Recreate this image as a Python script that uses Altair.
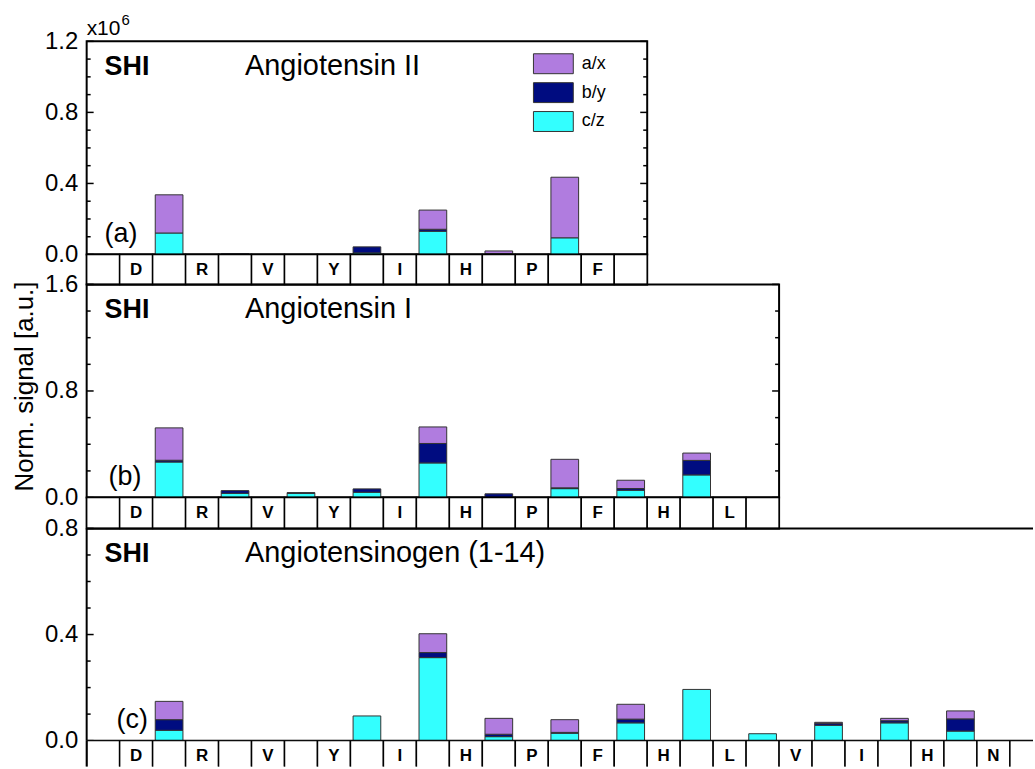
import altair as alt
import pandas as pd

FONT = "Liberation Sans"
CELL = 33.1        # pixel width of one residue / cleavage cell
PLOT_H = 214
STRIP_H = 30

ion_types = ["a/x", "b/y", "c/z"]
ion_colors = ["#B07CDF", "#000C80", "#33FFFF"]

# residue sequences of the three peptides
residues_a = ["D", "R", "V", "Y", "I", "H", "P", "F"]
residues_b = ["D", "R", "V", "Y", "I", "H", "P", "F", "H", "L"]
residues_c = ["D", "R", "V", "Y", "I", "H", "P", "F", "H", "L", "V", "I", "H", "N"]

# (a) Angiotensin II: cleavage cells and stacked signals (x10^6)
cells_a = [2, 4, 8, 10, 12, 14]
cz_a = [0.121, 0.0, 0.009, 0.131, 0.0, 0.094]
by_a = [0.0, 0.004, 0.034, 0.011, 0.005, 0.0]
ax_a = [0.215, 0.0, 0.0, 0.108, 0.015, 0.341]

# (b) Angiotensin I
cells_b = [2, 4, 6, 8, 10, 12, 14, 16, 18]
cz_b = [0.267, 0.032, 0.032, 0.040, 0.260, 0.0, 0.067, 0.055, 0.170]
by_b = [0.013, 0.020, 0.005, 0.025, 0.146, 0.028, 0.006, 0.013, 0.109]
ax_b = [0.243, 0.0, 0.0, 0.0, 0.124, 0.0, 0.214, 0.062, 0.055]

# (c) Angiotensinogen (1-14)
cells_c = [2, 8, 10, 12, 14, 16, 18, 20, 22, 24, 26]
cz_c = [0.039, 0.093, 0.313, 0.015, 0.028, 0.067, 0.193, 0.026, 0.058, 0.067, 0.036]
by_c = [0.040, 0.0, 0.019, 0.009, 0.003, 0.014, 0.0, 0.0, 0.007, 0.008, 0.046]
ax_c = [0.069, 0.0, 0.071, 0.060, 0.048, 0.056, 0.0, 0.0, 0.004, 0.009, 0.030]

names = ["Angiotensin II", "Angiotensin I", "Angiotensinogen (1-14)"]
tags = ["(a)", "(b)", "(c)"]


def segments(cells, cz, by, ax):
    rows = []
    for cell, c, b, a in zip(cells, cz, by, ax):
        base = 0.0
        for ion, v in (("c/z", c), ("b/y", b), ("a/x", a)):
            if v > 0:
                rows.append(dict(x0=cell + 0.08, x1=cell + 0.92, y0=base, y1=base + v, ion=ion))
                base += v
    return pd.DataFrame(rows)


def text_layer(text, x, y, size, weight="normal", align="left", baseline="alphabetic"):
    return alt.Chart(pd.DataFrame({"t": [text]})).mark_text(
        align=align, baseline=baseline, fontSize=size, fontWeight=weight,
        font=FONT, color="black"
    ).encode(x=alt.value(x), y=alt.value(y), text="t:N")


def panel(idx, cells, cz, by, ax, ymax, major, minor, width, height, open_right=False):
    xs = alt.Scale(domain=[0, width / CELL], nice=False, zero=False)
    ys = alt.Scale(domain=[0, ymax], nice=False, zero=False)
    axis_kw = dict(values=major, format=".1f", ticks=False, domain=False, grid=False,
                   labelFontSize=24, labelFont=FONT, labelColor="black", labelPadding=9)
    if idx == 1:
        axis_kw.update(title="Norm. signal [a.u.]", titleFontSize=26, titleFont=FONT,
                       titleFontWeight="normal", titleColor="black", titleAngle=270,
                       titleX=-62, titleY=102, titleAlign="center", titleBaseline="middle")
    else:
        axis_kw.update(title=None)
    yaxis = alt.Axis(**axis_kw)
    if idx == 0:
        legend = alt.Legend(orient="none", legendX=458, legendY=12, title=None,
                            symbolType="M-2,-1H2V1H-2Z", symbolSize=400,
                            symbolStrokeColor="#333333", symbolStrokeWidth=1,
                            symbolOpacity=1, labelFontSize=18, labelFont=FONT,
                            labelColor="black", labelOffset=18, rowPadding=4, padding=0)
    else:
        legend = None
    bars = alt.Chart(segments(cells, cz, by, ax)).mark_rect(
        stroke="#333333", strokeWidth=1
    ).encode(
        x=alt.X("x0:Q", scale=xs, axis=None),
        x2="x1:Q",
        y=alt.Y("y0:Q", scale=ys, axis=yaxis),
        y2="y1:Q",
        color=alt.Color("ion:N", scale=alt.Scale(domain=ion_types, range=ion_colors), legend=legend),
    )

    def ticks(vals, length, right):
        x_start = width if right else 0
        x_end = width - length if right else length
        return alt.Chart(pd.DataFrame({"v": vals})).mark_rule(color="black", strokeWidth=1.5).encode(
            y=alt.Y("v:Q", scale=ys, axis=yaxis), x=alt.value(x_start), x2=alt.value(x_end))

    layers = [bars, ticks(major, 7, False), ticks(minor, 4, False)]
    if not open_right:
        layers += [ticks(major, 7, True), ticks(minor, 4, True)]
    else:
        # top and bottom frame lines and the left edge, drawn open on the right
        layers += [
            alt.Chart(pd.DataFrame({"v": [0.0, ymax]})).mark_rule(color="black", strokeWidth=2).encode(
                y=alt.Y("v:Q", scale=ys, axis=yaxis), x=alt.value(0), x2=alt.value(width)),
            alt.Chart(pd.DataFrame({"v": [0.0], "v2": [ymax]})).mark_rule(color="black", strokeWidth=2).encode(
                y=alt.Y("v:Q", scale=ys, axis=yaxis), y2="v2:Q", x=alt.value(0)),
        ]
    tag_x = [18, 22, 30][idx]
    layers += [
        text_layer("SHI", 18, 34, 27, weight="bold"),
        text_layer(names[idx], 159, 34, 29),
        text_layer(tags[idx], tag_x, height - 13, 27),
    ]
    if idx == 0:
        layers += [text_layer("x10", 0, -6, 21), text_layer("6", 35, -16, 15)]
    view = alt.ViewBackground(stroke="transparent") if open_right else alt.ViewBackground(stroke="black", strokeWidth=2)
    return alt.layer(*layers).properties(width=width, height=height, view=view)


def strip(residues, n_cells, width, height, clip=False):
    xs = alt.Scale(domain=[0, width / CELL], nice=False, zero=False)
    df = pd.DataFrame({
        "x0": list(range(n_cells)),
        "x1": [k + 1 for k in range(n_cells)],
        "xc": [k + 0.5 for k in range(n_cells)],
        "letter": [residues[(k - 1) // 2] if k % 2 == 1 else "" for k in range(n_cells)],
    })
    cells = alt.Chart(df).mark_rect(fill="white", stroke="black", strokeWidth=1.5, clip=clip).encode(
        x=alt.X("x0:Q", scale=xs, axis=None), x2="x1:Q",
        y=alt.value(0), y2=alt.value(height + (12 if clip else 0)))
    letters = alt.Chart(df[df.letter != ""]).mark_text(
        fontWeight="bold", fontSize=17, font=FONT, baseline="middle", color="black"
    ).encode(x=alt.X("xc:Q", scale=xs, axis=None), y=alt.value(15.5), text="letter:N")
    layers = [cells, letters]
    if clip:
        layers.append(alt.Chart(pd.DataFrame({"v": [0]})).mark_rule(color="black", strokeWidth=2).encode(
            x=alt.value(0), y=alt.value(0), y2=alt.value(height)))
        view = alt.ViewBackground(stroke="transparent")
    else:
        view = alt.ViewBackground(stroke="black", strokeWidth=2)
    return alt.layer(*layers).properties(width=width, height=height, view=view)


W_A = 17 * CELL
W_B = 21 * CELL
W_C = 950

pa = panel(0, cells_a, cz_a, by_a, ax_a, 1.2, [0.0, 0.4, 0.8, 1.2],
           [0.1, 0.2, 0.3, 0.5, 0.6, 0.7, 0.9, 1.0, 1.1], W_A, 214)
sa = strip(residues_a, 17, W_A, 30)
pb = panel(1, cells_b, cz_b, by_b, ax_b, 1.6, [0.0, 0.8, 1.6],
           [0.2, 0.4, 0.6, 1.0, 1.2, 1.4], W_B, 214)
sb = strip(residues_b, 21, W_B, 31)
pc = panel(2, cells_c, cz_c, by_c, ax_c, 0.8, [0.0, 0.4, 0.8],
           [0.1, 0.2, 0.3, 0.5, 0.6, 0.7], W_C, 213, open_right=True)
sc = strip(residues_c, 29, W_C, 26, clip=True)

chart = alt.vconcat(pa, sa, pb, sb, pc, sc, spacing=0, bounds="flush").resolve_scale(
    x="independent", y="independent", color="independent"
).properties(
    padding={"left": 10, "top": 11, "right": 0, "bottom": 0},
    background="white",
).configure(font=FONT)

chart.save("out.html", embed_options={"renderer": "svg", "actions": False})
